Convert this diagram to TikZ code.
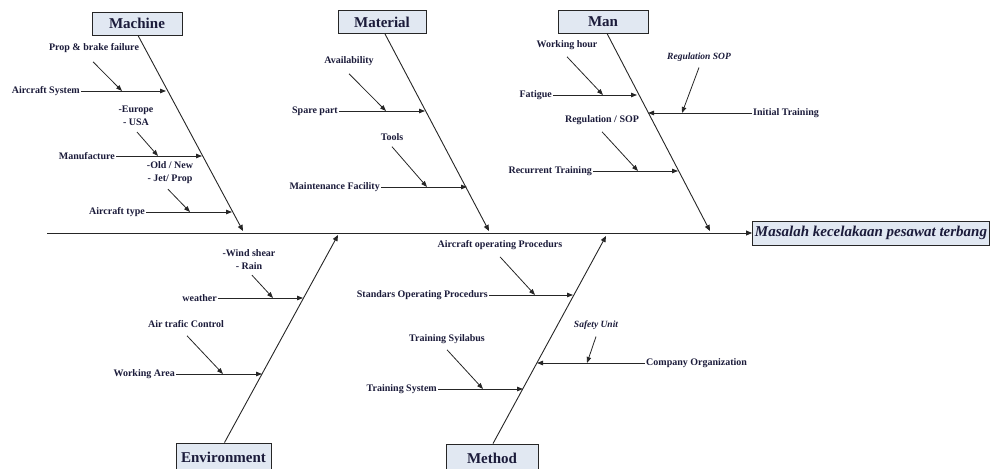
\documentclass[tikz,border=0pt]{standalone}
\usepackage{fontspec}
\setmainfont{Liberation Serif}
\usetikzlibrary{arrows.meta}
\definecolor{ink}{HTML}{1B1B3A}
\definecolor{boxfill}{HTML}{E1E8F2}
\definecolor{linec}{HTML}{262626}
\begin{document}
\begin{tikzpicture}[x=1pt,y=-1pt,
  lbl/.style={font=\bfseries\fontsize{10}{13}\selectfont, text=ink, inner sep=1pt},
  note/.style={lbl, align=center},
  inote/.style={font=\bfseries\itshape\fontsize{9.5}{11}\selectfont, text=ink, inner sep=1pt},
  cat/.style={draw=linec, fill=boxfill, line width=0.9pt,
    font=\bfseries\fontsize{15}{17}\selectfont, text=ink,
    minimum height=23pt, inner sep=0pt},
  bone/.style={draw=linec, line width=0.9pt, -{Triangle[length=6pt,width=5pt]}},
  twig/.style={draw=linec, line width=0.8pt, -{Triangle[length=6pt,width=4.5pt]}},
]
\useasboundingbox (0,0) rectangle (992,468);

% ---------- head and spine ----------
\node[draw=linec, fill=boxfill, line width=0.9pt, anchor=west,
      font=\bfseries\itshape\fontsize{15}{17}\selectfont, text=ink,
      minimum height=24pt, inner xsep=2.5pt, inner ysep=0pt]
  (head) at (752,233) {Masalah kecelakaan pesawat terbang};
\coordinate (tail) at (47,233);
\draw[bone] (tail) -- (head.west);

% ---------- category boxes ----------
\node[cat, minimum width=90pt] (machine)  at (137,23.5) {Machine};
\node[cat, minimum width=88pt] (material) at (382,22)   {Material};
\node[cat, minimum width=90pt] (man)      at (603,21.5) {Man};
\node[cat, minimum width=95pt, minimum height=28pt] (env)    at (223.5,457) {Environment};
\node[cat, minimum width=92pt, minimum height=28pt] (method) at (492,458)   {Method};

% ---------- main bones ----------
\coordinate (machine-end)  at (243,231);
\coordinate (material-end) at (489,231);
\coordinate (man-end)      at (710,231);
\coordinate (env-end)      at (338,235);
\coordinate (method-end)   at (606,236);
\draw[bone] ([xshift=1pt]machine.south)  -- (machine-end);
\draw[bone] ([xshift=3pt]material.south) -- (material-end);
\draw[bone] ([xshift=4pt]man.south)      -- (man-end);
\draw[bone] ([xshift=1pt]env.north)      -- (env-end);
\draw[bone] ([xshift=1pt]method.north)   -- (method-end);

% ---------- Machine ----------
\coordinate (m1) at (166,91);  \coordinate (m1s) at (122,91);
\coordinate (m2) at (202,156); \coordinate (m2s) at (158,156);
\coordinate (m3) at (232,212); \coordinate (m3s) at (190,212);
\node[lbl, anchor=east] (m1l) at (81,91)   {Aircraft System};
\node[lbl, anchor=east] (m2l) at (116,156) {Manufacture};
\node[lbl, anchor=east] (m3l) at (146,212) {Aircraft type};
\node[lbl]  (m1c) at (94,48)   {Prop \& brake failure};
\node[note] (m2c) at (136,116) {-Europe\\- USA};
\node[note] (m3c) at (170,173) {-Old / New\\- Jet/ Prop};
\draw[twig] (m1l.east) -- (m1);
\draw[twig] (m2l.east) -- (m2);
\draw[twig] (m3l.east) -- (m3);
\draw[twig] ([xshift=-1pt,yshift=-8pt]m1c.south) -- (m1s);
\draw[twig] ([xshift=1pt,yshift=-5pt]m2c.south) -- (m2s);
\draw[twig] ([xshift=-2pt,yshift=-4pt]m3c.south) -- (m3s);

% ---------- Material ----------
\coordinate (t1) at (425,111); \coordinate (t1s) at (386,111);
\coordinate (t2) at (467,187); \coordinate (t2s) at (427,187);
\node[lbl, anchor=east] (t1l) at (339,111) {Spare part};
\node[lbl, anchor=east] (t2l) at (381,187) {Maintenance Facility};
\node[lbl] (t1c) at (349,61)  {Availability};
\node[lbl] (t2c) at (392,137) {Tools};
\draw[twig] (t1l.east) -- (t1);
\draw[twig] (t2l.east) -- (t2);
\draw[twig] ([yshift=-7pt]t1c.south) -- (t1s);
\draw[twig] ([yshift=-5pt]t2c.south) -- (t2s);

% ---------- Man ----------
\coordinate (n1) at (637,95);  \coordinate (n1s) at (603,95);
\coordinate (n2) at (648,113); \coordinate (n2s) at (682,113);
\coordinate (n3) at (678,171); \coordinate (n3s) at (638,171);
\node[lbl, anchor=east] (n1l) at (553,95)  {Fatigue};
\node[lbl, anchor=west] (n2l) at (752,113) {Initial Training};
\node[lbl, anchor=east] (n3l) at (593,171) {Recurrent Training};
\node[lbl]   (n1c) at (567,45)  {Working hour};
\node[inote] (n2c) at (699,57)  {Regulation SOP};
\node[lbl]   (n3c) at (602,120) {Regulation / SOP};
\draw[twig] (n1l.east) -- (n1);
\draw[twig] (n2l.west) -- (n2);
\draw[twig] (n3l.east) -- (n3);
\draw[twig] ([yshift=-6pt]n1c.south) -- (n1s);
\draw[twig] ([yshift=-5pt]n2c.south) -- (n2s);
\draw[twig] ([yshift=-6pt]n3c.south) -- (n3s);

% ---------- Environment ----------
\coordinate (e1) at (303,298); \coordinate (e1s) at (273,298);
\coordinate (e2) at (262,374); \coordinate (e2s) at (223,374);
\node[lbl, anchor=east] (e1l) at (218,298) {weather};
\node[lbl, anchor=east] (e2l) at (176,374) {Working Area};
\node[note] (e1c) at (249,260) {-Wind shear\\- Rain};
\node[lbl]  (e2c) at (186,324) {Air trafic Control};
\draw[twig] (e1l.east) -- (e1);
\draw[twig] (e2l.east) -- (e2);
\draw[twig] ([xshift=3pt,yshift=-4pt]e1c.south) -- (e1s);
\draw[twig] ([xshift=1pt,yshift=-7pt]e2c.south) -- (e2s);

% ---------- Method ----------
\coordinate (d1) at (573,295); \coordinate (d1s) at (535,295);
\coordinate (d2) at (537,363); \coordinate (d2s) at (587,363);
\coordinate (d3) at (523,389); \coordinate (d3s) at (483,389);
\node[lbl, anchor=east] (d1l) at (489,295) {Standars Operating Procedurs};
\node[lbl, anchor=west] (d2l) at (645,363) {Company Organization};
\node[lbl, anchor=east] (d3l) at (438,389) {Training System};
\node[lbl]   (d1c) at (500,245) {Aircraft operating Procedurs};
\node[inote] (d2c) at (596,325) {Safety Unit};
\node[lbl]   (d3c) at (447,339) {Training Syilabus};
\draw[twig] (d1l.east) -- (d1);
\draw[twig] (d2l.west) -- (d2);
\draw[twig] (d3l.east) -- (d3);
\draw[twig] ([yshift=-6pt]d1c.south) -- (d1s);
\draw[twig] ([yshift=-6pt]d2c.south) -- (d2s);
\draw[twig] ([yshift=-5pt]d3c.south) -- (d3s);
\end{tikzpicture}
\end{document}
